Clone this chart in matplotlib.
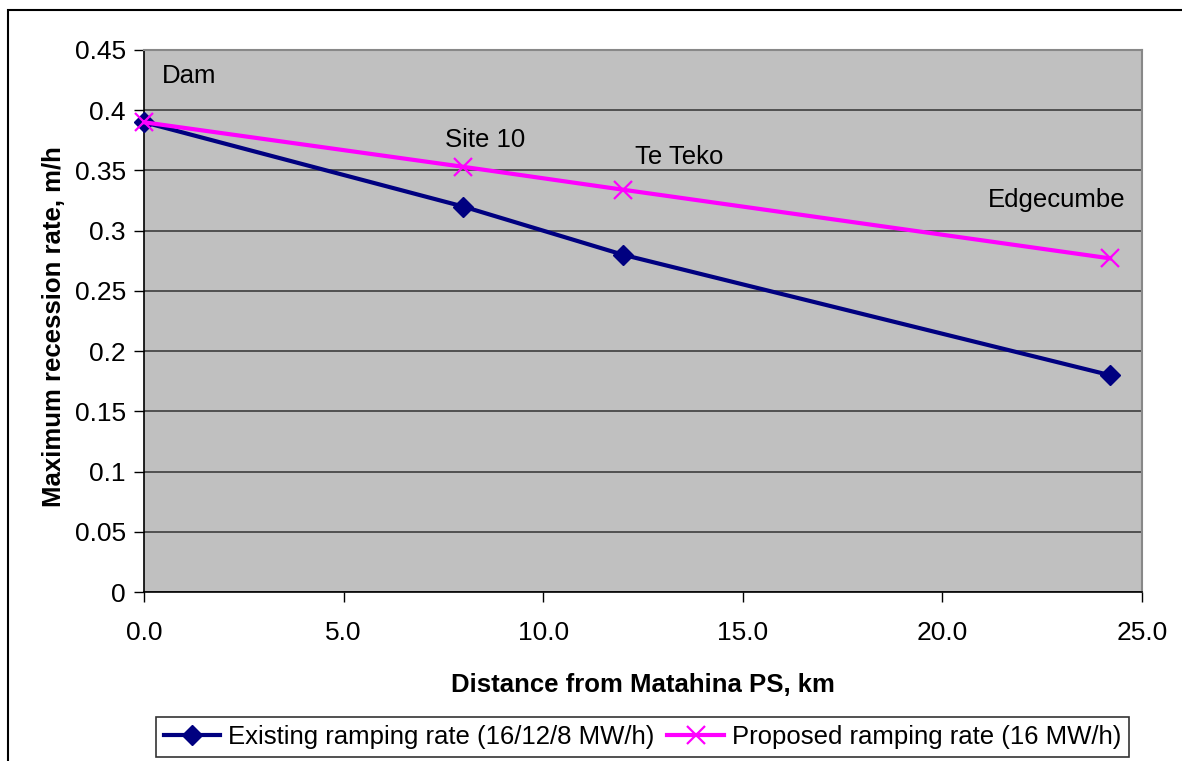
import matplotlib
matplotlib.use("Agg")
import matplotlib.pyplot as plt
from matplotlib.patches import Rectangle

plt.rcParams['font.family'] = ['Liberation Sans', 'DejaVu Sans']

# distance from Matahina PS (km) and max recession rate (m/h)
dist_km = [0.0, 8.0, 12.0, 24.2]
existing_rate = [0.39, 0.32, 0.28, 0.18]
proposed_rate = [0.39, 0.353, 0.334, 0.277]

site_names = ["Dam", "Site 10", "Te Teko", "Edgecumbe"]
site_label_x = [0.45, 7.55, 12.3, 21.15]
site_label_y = [0.4225, 0.3695, 0.3555, 0.3195]

x_ticks = [0, 5, 10, 15, 20, 25]
y_ticks = [0, 0.05, 0.1, 0.15, 0.2, 0.25, 0.3, 0.35, 0.4, 0.45]

W, H = 1182, 761
fig = plt.figure(figsize=(W / 100, H / 100), dpi=100)
ax = fig.add_axes([144 / W, 1 - 592 / H, (1142 - 144) / W, (592 - 50) / H])
ax.set_facecolor('#C0C0C0')

# outer chart frame (runs off the right/bottom edge)
fig.patches.append(Rectangle((8 / W, -0.05), 1.2, 1 - 10 / H + 0.05,
                             transform=fig.transFigure, fill=False,
                             edgecolor='black', lw=1.5))

ax.set_xlim(0, 25)
ax.set_ylim(0, 0.45)
ax.set_xticks(x_ticks)
ax.set_xticklabels([f"{v:.1f}" for v in x_ticks])
ax.set_yticks(y_ticks)
ax.set_yticklabels([f"{v:g}" for v in y_ticks])
ax.yaxis.grid(True, color='#333333', lw=1.1)
ax.set_axisbelow(True)

ax.tick_params(axis='both', direction='out', length=7, width=1, labelsize=19)
ax.tick_params(axis='y', pad=6)
ax.tick_params(axis='x', pad=14)
for s in ['top', 'right']:
    ax.spines[s].set_color('#888888')
    ax.spines[s].set_linewidth(1.5)
for s in ['left', 'bottom']:
    ax.spines[s].set_color('black')
    ax.spines[s].set_linewidth(1.2)

l1, = ax.plot(dist_km, existing_rate, color='#000080', lw=3, marker='D',
              markersize=10, clip_on=False, zorder=3,
              label='Existing ramping rate (16/12/8 MW/h)')
l2, = ax.plot(dist_km, proposed_rate, color='#FF00FF', lw=3, marker='x',
              markersize=13, markeredgewidth=1.6, clip_on=False, zorder=4,
              label='Proposed ramping rate (16 MW/h)')

for name, lx, ly in zip(site_names, site_label_x, site_label_y):
    ax.text(lx, ly, name, fontsize=18.5, ha='left', va='baseline')

ax.set_xlabel('Distance from Matahina PS, km', fontsize=18.5, fontweight='bold')
ax.set_ylabel('Maximum recession rate, m/h', fontsize=18.5, fontweight='bold')
ax.xaxis.set_label_coords(0.5, (592 - 673) / 542)
ax.yaxis.set_label_coords((66 - 144) / 998, 0.49)

leg = fig.legend(handles=[l1, l2], loc='center', ncol=2,
                 bbox_to_anchor=(642.5 / W, 1 - 737 / H),
                 fontsize=18.5, frameon=True, fancybox=False,
                 edgecolor='black', handlelength=2.2, handletextpad=0.3,
                 columnspacing=0.5, borderpad=0.3)
leg.get_frame().set_linewidth(1.2)

fig.savefig('out.png', dpi=100)
